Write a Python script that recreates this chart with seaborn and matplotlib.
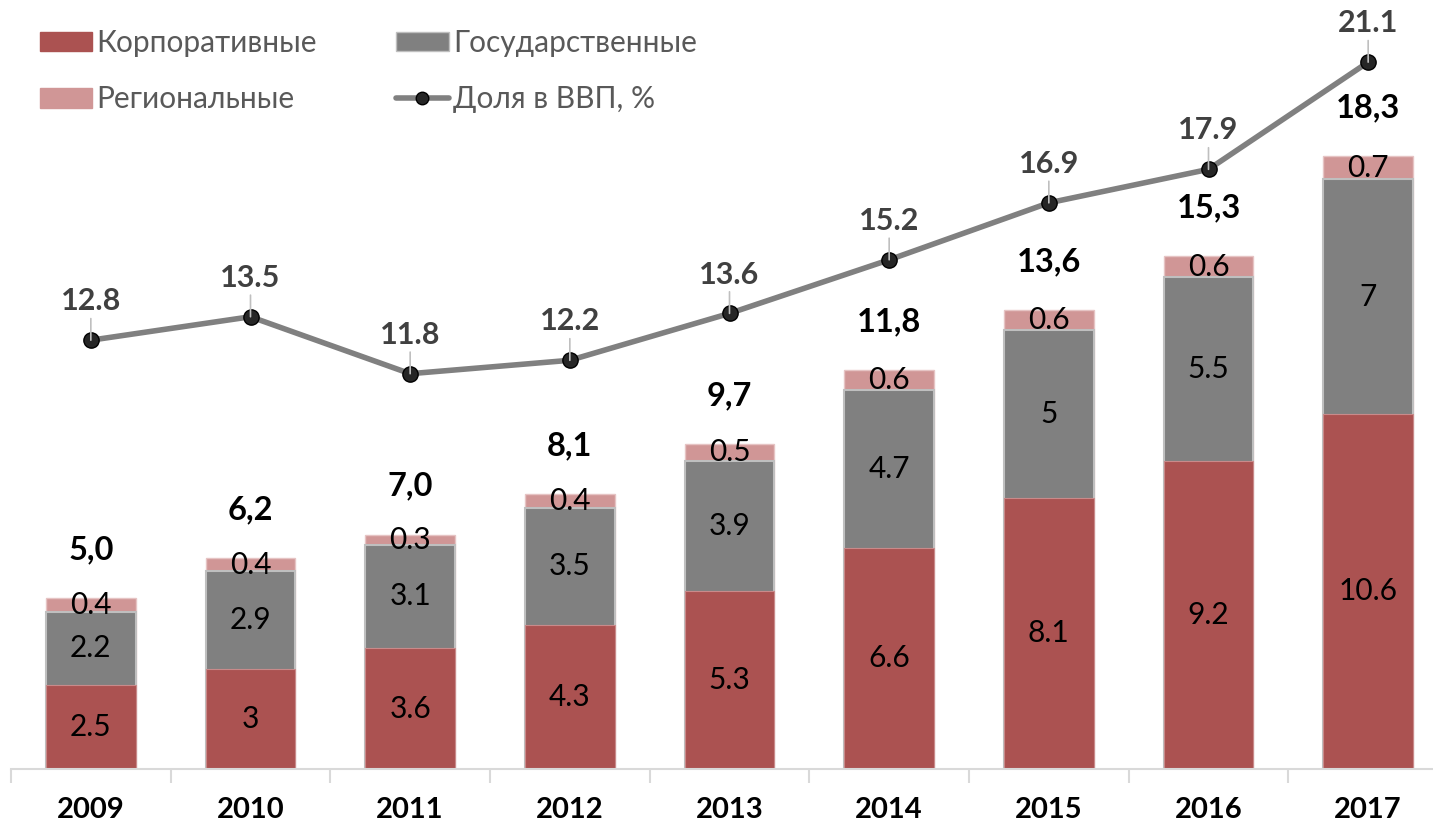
import matplotlib
matplotlib.use("Agg")
import matplotlib.pyplot as plt
import pandas as pd
import seaborn as sns
import numpy as np
from matplotlib.patches import Patch
from matplotlib.lines import Line2D

# Data
years = ["2009", "2010", "2011", "2012", "2013", "2014", "2015", "2016", "2017"]
corporate = [2.5, 3, 3.6, 4.3, 5.3, 6.6, 8.1, 9.2, 10.6]
government = [2.2, 2.9, 3.1, 3.5, 3.9, 4.7, 5, 5.5, 7]
regional = [0.4, 0.4, 0.3, 0.4, 0.5, 0.6, 0.6, 0.6, 0.7]
totals = [5.0, 6.2, 7.0, 8.1, 9.7, 11.8, 13.6, 15.3, 18.3]
gdp_share = [12.8, 13.5, 11.8, 12.2, 13.6, 15.2, 16.9, 17.9, 21.1]

c_corp = "#AB5251"
c_gov = "#808080"
c_reg = "#D09696"

sns.set_theme(style="white")
plt.rcParams["font.family"] = ["Lato", "DejaVu Sans"]

fig = plt.figure(figsize=(14.33, 8.23), dpi=100)
ax = fig.add_axes([11 / 1433, 54 / 823, 1437 / 1433, 769 / 823])

df = pd.DataFrame({"year": years, "corp": corporate, "gov": government, "reg": regional})
x = np.arange(len(years))
w = 0.56

# stacked bars: draw cumulative heights, tallest first
df["s3"] = df["corp"] + df["gov"] + df["reg"]
df["s2"] = df["corp"] + df["gov"]
sns.barplot(data=df, x="year", y="s3", color=c_reg, width=w, saturation=1,
            edgecolor="#E6C4C4", linewidth=1, ax=ax)
sns.barplot(data=df, x="year", y="s2", color=c_gov, width=w, saturation=1,
            edgecolor="#BFBFBF", linewidth=1.5, ax=ax)
sns.barplot(data=df, x="year", y="corp", color=c_corp, width=w, saturation=1,
            edgecolor="#C98A8A", linewidth=0.8, ax=ax)

# segment labels + totals
for i in range(len(years)):
    ax.text(i, corporate[i] / 2, f"{corporate[i]:g}", ha="center", va="center",
            fontsize=21.5, color="black")
    ax.text(i, corporate[i] + government[i] / 2, f"{government[i]:g}", ha="center",
            va="center", fontsize=21.5, color="black")
    ax.text(i, corporate[i] + government[i] + regional[i] / 2, f"{regional[i]:g}",
            ha="center", va="center", fontsize=21.5, color="black")
    top = corporate[i] + government[i] + regional[i]
    ax.text(i, top + 1.45, f"{totals[i]:.1f}".replace(".", ","), ha="center",
            va="center", fontsize=23.5, fontweight="bold", color="black")

# GDP share line (same scale as bars)
sns.lineplot(x=x, y=gdp_share, color="#808080", linewidth=4, marker="o",
             markersize=11, markerfacecolor="#262626", markeredgecolor="black",
             markeredgewidth=1, ax=ax, zorder=5)
for i, v in enumerate(gdp_share):
    ax.annotate(f"{v:.1f}", xy=(i, v), xytext=(0, 28), textcoords="offset points",
                ha="center", va="center", fontsize=22, fontweight="bold",
                color="#404040", zorder=6,
                arrowprops=dict(arrowstyle="-", color="#BFBFBF", lw=1.2,
                                shrinkA=17, shrinkB=0))

ax.set_xlim(-0.5, len(years) - 0.5)
ax.set_ylim(0, 769 / 33.5)
ax.set_xlabel("")
ax.set_ylabel("")
ax.set_yticks([])
ax.set_xticks(x)
ax.set_xticklabels(years, fontsize=21, fontweight="bold", color="black")
ax.set_xticks(np.arange(-0.5, len(years)), minor=True)
ax.tick_params(axis="x", which="major", length=0, pad=20)
ax.tick_params(axis="x", which="minor", length=10, width=1.5, color="#D9D9D9",
               bottom=True)
for s in ["top", "right", "left"]:
    ax.spines[s].set_visible(False)
ax.spines["bottom"].set_color("#D9D9D9")
ax.spines["bottom"].set_linewidth(1.5)

# legend
handles = [
    Patch(facecolor=c_corp, edgecolor=c_corp),
    Patch(facecolor=c_reg, edgecolor=c_reg),
    Patch(facecolor=c_gov, edgecolor="#BFBFBF"),
    Line2D([0], [0], color="#808080", lw=4, marker="o", markersize=9,
           markerfacecolor="#262626", markeredgecolor="black"),
]
labels = ["Корпоративные", "Региональные", "Государственные", "Доля в ВВП, %"]
leg = fig.legend(handles, labels, ncol=2, loc="upper left",
                 bbox_to_anchor=(40 / 1433, 1 - 29 / 823), frameon=False,
                 fontsize=21.5, handlelength=1.75, handleheight=0.65,
                 handletextpad=0.15, columnspacing=2.65, labelspacing=0.95,
                 borderaxespad=0, borderpad=0)
for t in leg.get_texts():
    t.set_color("#595959")

fig.savefig("out.png", dpi=100)
